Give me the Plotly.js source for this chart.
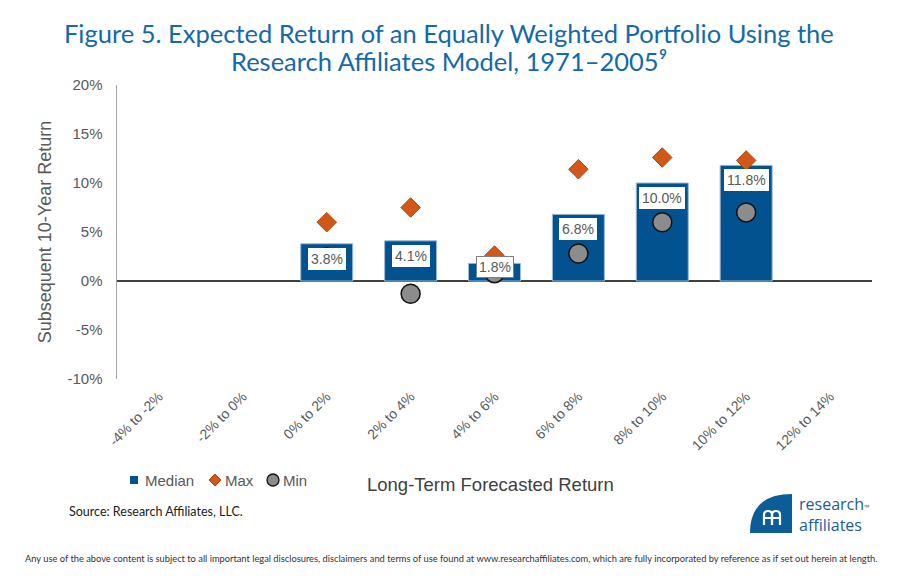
<!DOCTYPE html>
<html>
<head>
<meta charset="utf-8">
<script src="https://cdn.plot.ly/plotly-3.0.1.min.js"></script>
<style>
  html, body { margin: 0; padding: 0; background: #ffffff; }
  #chart { width: 900px; height: 576px; }
</style>
</head>
<body>
<div id="chart"></div>
<script>
// ---- Data ----
const categories = ["-4% to -2%", "-2% to 0%", "0% to 2%", "2% to 4%", "4% to 6%",
                    "6% to 8%", "8% to 10%", "10% to 12%", "12% to 14%"];
const medianValues = [null, null, 3.8, 4.1, 1.8, 6.8, 10.0, 11.8, null];
const maxValues    = [null, null, 6.0, 7.5, 2.6, 11.4, 12.6, 12.3, null];
const minValues    = [null, null, 2.4, -1.3, 0.8, 2.8, 6.0, 7.0, null];
const yTickValues  = [-10, -5, 0, 5, 10, 15, 20];
const yTickLabels  = ["-10%", "-5%", "0%", "5%", "10%", "15%", "20%"];
const seriesNames  = ["Median", "Max", "Min"];

// ---- Layout helpers (pixel -> paper) ----
const W = 900, H = 576;
const M = { l: 117, r: 28, t: 85, b: 197 };
const PW = W - M.l - M.r, PH = H - M.t - M.b;
const px = x => (x - M.l) / PW;
const py = y => (H - M.b - y) / PH;

const gray = "#595959";
const font = "Arial, 'Liberation Sans', sans-serif";
const colMedian = "#02528F", colMax = "#D2581A", colMaxLine = "#B4470F", colMin = "#8C8C8C";

const traces = [
  {
    type: "bar", name: seriesNames[0], x: categories, y: medianValues,
    marker: { color: colMedian, line: { color: "#9dbad6", width: 1 } },
    width: 0.62
  },
  {
    type: "scatter", mode: "markers", name: seriesNames[1], x: categories, y: maxValues,
    marker: { symbol: "diamond", size: 15, color: colMax, line: { color: colMaxLine, width: 1 } }
  },
  {
    type: "scatter", mode: "markers", name: seriesNames[2], x: categories, y: minValues,
    marker: { symbol: "circle", size: 19, color: colMin, line: { color: "#111111", width: 1.5 } }
  }
];

const annotations = [];
categories.forEach((c, i) => {
  const v = medianValues[i];
  if (v === null) return;
  const small = v < 3;
  annotations.push({
    x: c, y: v, xref: "x", yref: "y",
    text: v.toFixed(1) + "%", showarrow: false,
    yanchor: small ? "middle" : "top", yshift: -4,
    bgcolor: "#ffffff", bordercolor: small ? "#7f7f7f" : "#ffffff", borderwidth: 1, borderpad: 2,
    font: { family: font, size: 14, color: gray }
  });
});

// title (two lines)
const titleFont = { family: "Lato, sans-serif", size: 25.5, color: "#1469A8" };
annotations.push({
  xref: "paper", yref: "paper", x: px(449), y: py(33), xanchor: "center", yanchor: "middle",
  text: "Figure 5. Expected Return of an Equally Weighted Portfolio Using the", showarrow: false, font: titleFont
});
annotations.push({
  xref: "paper", yref: "paper", x: px(449), y: py(61), xanchor: "center", yanchor: "middle",
  text: "Research Affiliates Model, 1971–2005⁹", showarrow: false, font: titleFont
});

// legend (manual, tighter spacing like the reference)
const legendY = py(480);
const legendItems = [
  { x: 143, text: seriesNames[0] },
  { x: 223, text: seriesNames[1] },
  { x: 281, text: seriesNames[2] }
];
legendItems.forEach(it => annotations.push({
  xref: "paper", yref: "paper", x: px(it.x), y: legendY, xanchor: "left", yanchor: "middle",
  text: it.text, showarrow: false, font: { family: font, size: 15, color: gray }
}));

// x-axis title
annotations.push({
  xref: "paper", yref: "paper", x: px(490), y: py(484), xanchor: "center", yanchor: "middle",
  text: "Long-Term Forecasted Return", showarrow: false,
  font: { family: font, size: 18.5, color: "#404040" }
});
// source
annotations.push({
  xref: "paper", yref: "paper", x: px(67), y: py(511), xanchor: "left", yanchor: "middle",
  text: "Source: Research Affiliates, LLC.", showarrow: false,
  font: { family: "Lato, sans-serif", size: 12.5, color: "#222222" }
});
// disclaimer
annotations.push({
  xref: "paper", yref: "paper", x: px(451), y: py(558), xanchor: "center", yanchor: "middle",
  text: "Any use of the above content is subject to all important legal disclosures, disclaimers and terms of use found at www.researchaffiliates.com, which are fully incorporated by reference as if set out herein at length.",
  showarrow: false,
  font: { family: "Lato, sans-serif", size: 9.3, color: "#333333" }
});
// logo text
annotations.push({
  xref: "paper", yref: "paper", x: px(797), y: py(514), xanchor: "left", yanchor: "middle",
  text: "research<span style='font-size:7px'>™</span><br>affiliates", showarrow: false, align: "left",
  font: { family: "'Open Sans', sans-serif", size: 16, color: "#1A5E99" }
});

// logo shape: quarter disc
const L0 = 750, L1 = 792, T0 = 494, B0 = 533;
const logoPath = `M ${px(L0)},${py(B0)} Q ${px(L0)},${py(T0)} ${px(L1)},${py(T0)} L ${px(L1)},${py(B0)} Z`;
function arch(x0, x1, yb, yt) {
  const r = (x1 - x0) / 2;
  return `M ${px(x0)},${py(yb)} L ${px(x0)},${py(yt + r)} Q ${px(x0)},${py(yt)} ${px(x0 + r)},${py(yt)} Q ${px(x1)},${py(yt)} ${px(x1)},${py(yt + r)} L ${px(x1)},${py(yb)}`;
}
const shapes = [
  { type: "path", xref: "paper", yref: "paper", path: logoPath, fillcolor: "#0C5C98", line: { width: 0 } },
  { type: "path", xref: "paper", yref: "paper", path: arch(764, 772, 525, 511), line: { color: "#ffffff", width: 2.2 } },
  { type: "path", xref: "paper", yref: "paper", path: arch(772, 780, 525, 511), line: { color: "#ffffff", width: 2.2 } },
  { type: "line", xref: "paper", yref: "paper", x0: px(764), x1: px(780), y0: py(518), y1: py(518), line: { color: "#ffffff", width: 2 } },
  // legend glyphs
  { type: "rect", xref: "paper", yref: "paper", xsizemode: "pixel", ysizemode: "pixel",
    xanchor: px(134), yanchor: legendY, x0: -4, x1: 4, y0: -4, y1: 4,
    fillcolor: colMedian, line: { width: 0 } },
  { type: "path", xref: "paper", yref: "paper", xsizemode: "pixel", ysizemode: "pixel",
    xanchor: px(215), yanchor: legendY, path: "M -6,0 L 0,6 L 6,0 L 0,-6 Z",
    fillcolor: colMax, line: { color: colMaxLine, width: 1 } },
  { type: "circle", xref: "paper", yref: "paper", xsizemode: "pixel", ysizemode: "pixel",
    xanchor: px(273), yanchor: legendY, x0: -6, x1: 6, y0: -6, y1: 6,
    fillcolor: colMin, line: { color: "#111111", width: 1.3 } }
];

const layout = {
  width: W, height: H,
  margin: M,
  paper_bgcolor: "#ffffff", plot_bgcolor: "#ffffff",
  showlegend: false,
  xaxis: {
    type: "category", categoryorder: "array", categoryarray: categories,
    range: [-0.5, categories.length - 0.5], automargin: false,
    tickangle: -45, tickfont: { family: font, size: 14, color: gray },
    showline: false, showgrid: false, zeroline: false, ticks: "outside", ticklen: 3, tickcolor: "rgba(0,0,0,0)"
  },
  yaxis: {
    range: [-10, 20], tickvals: yTickValues, ticktext: yTickLabels, automargin: false,
    tickfont: { family: font, size: 15, color: gray },
    showgrid: false, zeroline: true, zerolinecolor: "#404040", zerolinewidth: 1.5,
    showline: true, linecolor: "#A6A6A6", linewidth: 1.5,
    ticks: "outside", ticklen: 10, tickcolor: "rgba(0,0,0,0)",
    title: { text: "Subsequent 10-Year Return", font: { family: font, size: 18, color: gray }, standoff: 11 }
  },
  annotations: annotations,
  shapes: shapes
};

Plotly.newPlot("chart", traces, layout, { displayModeBar: false, staticPlot: true });
</script>
</body>
</html>
